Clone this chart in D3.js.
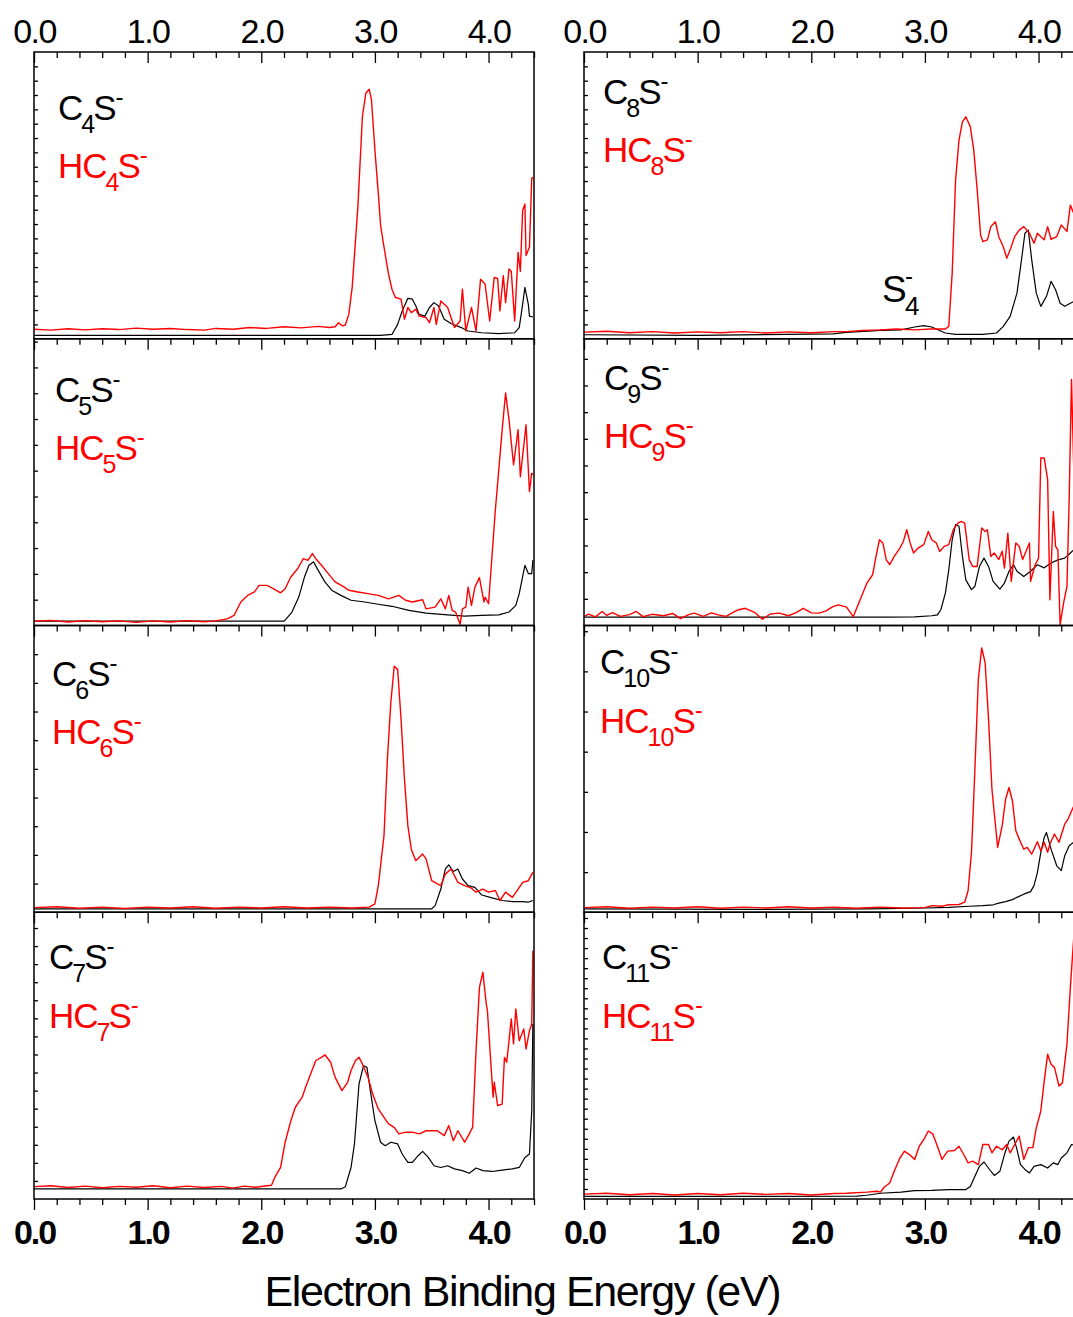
<!DOCTYPE html>
<html lang="en">
<head>
<meta charset="UTF-8">
<title>Photoelectron spectra CnS- / HCnS-</title>
<style>
  body { margin: 0; background: #fff; }
  svg { display: block; font-family: "Liberation Sans", Arial, sans-serif; }
  .frame { fill: none; stroke: #000; stroke-width: 1.5px; }
  .black { fill: none; stroke: #000; stroke-width: 1.2px; stroke-linejoin: round; }
  .red { fill: none; stroke: #ff0000; stroke-width: 1.4px; stroke-linejoin: round; }
  .tick line { stroke: #000; stroke-width: 1.3px; }
</style>
<script src="https://cdn.jsdelivr.net/npm/d3@7"></script>
</head>
<body>
<div id="chart"></div>
<script>
// x values in eV, y in % of panel height
const c4s = [[0,1.2],[3.05,1.2],[3.15,1.5],[3.20,5],[3.24,9.7],[3.29,14.1],[3.33,13.8],[3.36,11.4],[3.39,8.5],[3.44,7.9],[3.48,10.9],[3.52,12.6],[3.56,11.4],[3.61,6.8],[3.67,5.3],[3.76,3.9],[3.82,2.7],[3.94,2.1],[4.09,1.8],[4.23,2.1],[4.27,3.9],[4.30,12],[4.32,17.9],[4.35,12],[4.36,7.9],[4.39,7.6]];
const hc4s = [[0,3.3],[0.15,3.0],[0.3,3.5],[0.45,3.1],[0.6,3.5],[0.75,3.2],[0.9,3.7],[1.05,3.3],[1.2,3.6],[1.35,3.2],[1.5,3.0],[1.6,3.6],[1.75,3.3],[1.9,3.9],[2.05,3.6],[2.2,4.2],[2.35,3.8],[2.5,4.3],[2.6,3.9],[2.65,4.2],[2.68,5.6],[2.71,4.5],[2.74,4.8],[2.77,8.5],[2.80,17.9],[2.85,45.9],[2.89,77.5],[2.92,85.6],[2.95,87],[2.97,83.3],[3.00,65.8],[3.03,50.6],[3.05,39.5],[3.08,32],[3.12,22.5],[3.15,17.3],[3.18,14.4],[3.23,13.8],[3.26,6.8],[3.29,10.9],[3.32,9.1],[3.36,10.3],[3.39,7.9],[3.45,7.4],[3.48,5.6],[3.52,10.9],[3.54,5],[3.58,13.2],[3.64,10.9],[3.70,3.9],[3.75,6.2],[3.77,17.3],[3.80,2.7],[3.85,10.9],[3.89,2.7],[3.93,20.8],[3.97,19],[4.01,6.2],[4.05,21.4],[4.08,21],[4.10,9.7],[4.13,22],[4.15,12.6],[4.18,24.3],[4.20,23.5],[4.23,6.2],[4.26,30.1],[4.28,23.5],[4.30,44.7],[4.32,47],[4.33,29],[4.36,32],[4.38,55.8],[4.39,56.4]];

const c5s = [[0,1.5],[2.2,1.5],[2.21,1.9],[2.27,4.7],[2.33,9.9],[2.38,16.9],[2.42,21],[2.46,22.2],[2.50,19.3],[2.56,15.2],[2.62,12.3],[2.70,10.5],[2.79,8.8],[2.91,8.2],[3.03,7.4],[3.15,6.7],[3.30,5.3],[3.45,4.3],[3.64,3.7],[3.79,3.3],[3.94,3.5],[4.09,3.7],[4.18,4.7],[4.24,7],[4.27,11.1],[4.32,21],[4.35,18.1],[4.38,18.1],[4.39,22.8]];
const hc5s = [[0,1.5],[0.15,1.8],[0.3,1.2],[0.45,1.7],[0.6,1.3],[0.75,1.6],[0.9,1.1],[1.05,1.6],[1.2,1.2],[1.35,1.7],[1.5,1.3],[1.6,1.6],[1.70,2.3],[1.76,3.5],[1.82,8.2],[1.88,10.5],[1.94,11.7],[1.98,14],[2.05,14],[2.11,12.8],[2.17,11.4],[2.21,12.8],[2.26,16.9],[2.32,19.8],[2.37,23.3],[2.41,22.7],[2.45,25.1],[2.48,23.3],[2.53,21],[2.59,18.1],[2.65,15.2],[2.73,13.4],[2.77,12.3],[2.85,11.7],[2.94,11.1],[3.03,10.5],[3.12,9.3],[3.21,10.5],[3.27,8.8],[3.33,8.2],[3.42,9.0],[3.45,5.8],[3.53,6.4],[3.58,9.3],[3.62,5.8],[3.65,10.5],[3.68,5.3],[3.71,4.7],[3.75,0.4],[3.77,5.8],[3.80,6.4],[3.82,13.4],[3.85,7],[3.88,13.4],[3.92,16.7],[3.94,12.3],[3.96,8.2],[3.97,9.9],[4.00,7.6],[4.06,40.3],[4.12,68.3],[4.15,81.1],[4.18,71.8],[4.22,56],[4.26,68.3],[4.28,51.9],[4.33,70],[4.36,46.7],[4.38,53.1],[4.39,52.5]];

const c6s = [[0,1.2],[3.50,1.2],[3.53,2.3],[3.58,8.1],[3.62,15.1],[3.65,16.5],[3.69,14.2],[3.73,15.1],[3.77,11.6],[3.82,9.3],[3.88,8.7],[3.94,6],[4.03,5],[4.12,4.1],[4.21,3.7],[4.30,3.7],[4.35,3.5],[4.39,4.1]];
const hc6s = [[0,1.6],[0.2,1.9],[0.4,1.4],[0.6,1.8],[0.8,1.3],[1.0,1.8],[1.2,1.5],[1.4,1.9],[1.6,1.4],[1.8,1.8],[2.0,1.5],[2.2,1.9],[2.4,1.5],[2.6,1.8],[2.8,1.5],[2.95,1.8],[3.0,2.9],[3.03,9.3],[3.08,26.7],[3.11,53.4],[3.14,73.1],[3.17,85.8],[3.20,84.7],[3.23,67.3],[3.26,46.4],[3.29,30.2],[3.32,22],[3.36,18],[3.42,20.3],[3.45,18.6],[3.50,11],[3.55,9.9],[3.58,9.3],[3.62,13.3],[3.67,15.1],[3.73,10.4],[3.79,9.3],[3.85,8.4],[3.89,7],[3.95,8.1],[4.00,7],[4.06,7.6],[4.10,4.1],[4.15,7],[4.21,5.2],[4.26,8.1],[4.30,10.4],[4.35,11],[4.39,13.9]];

const c7s = [[0,3.5],[2.70,3.5],[2.74,4.3],[2.79,11],[2.82,19.2],[2.86,40.1],[2.90,46.5],[2.93,45.9],[2.96,37.8],[3.00,27.3],[3.05,19.8],[3.09,18.6],[3.14,19.8],[3.20,19.2],[3.24,15.7],[3.29,12.8],[3.33,12.8],[3.38,15.1],[3.42,16.6],[3.47,14.5],[3.52,11.6],[3.58,11],[3.64,11.6],[3.70,10.5],[3.77,9.9],[3.83,9],[3.89,10.8],[3.95,9.9],[4.03,9.6],[4.12,10.1],[4.21,10.5],[4.27,11],[4.32,14.5],[4.36,15.7],[4.38,30.8],[4.39,61]];
const hc7s = [[0,4.3],[0.15,4.6],[0.3,4.0],[0.45,4.5],[0.6,3.9],[0.75,4.4],[0.9,4.1],[1.05,4.6],[1.2,3.9],[1.35,4.5],[1.5,4.0],[1.65,4.4],[1.75,3.8],[1.85,4.5],[1.95,4.1],[2.05,4.6],[2.09,4.8],[2.12,7.6],[2.17,11],[2.21,19.8],[2.26,27.3],[2.30,32],[2.36,35.5],[2.39,39],[2.44,44.2],[2.48,48.3],[2.53,49.4],[2.56,50.3],[2.61,47.7],[2.65,42.4],[2.71,37.8],[2.76,40.7],[2.79,44.8],[2.83,48.3],[2.86,49.4],[2.89,47.1],[2.94,42.4],[2.98,36.6],[3.03,31.4],[3.08,28.5],[3.12,26.2],[3.17,25],[3.21,22.7],[3.27,23.3],[3.33,23.3],[3.39,22.7],[3.45,23.8],[3.55,23.8],[3.61,22.1],[3.65,25.6],[3.69,20.3],[3.73,23.8],[3.79,19.8],[3.83,22.7],[3.86,25],[3.89,51.7],[3.92,73.8],[3.95,79.1],[3.98,68],[3.99,65.7],[4.04,35.5],[4.05,40.7],[4.08,32.6],[4.12,33.1],[4.14,49.4],[4.16,47.7],[4.20,62.8],[4.22,54.1],[4.24,66.3],[4.27,55.2],[4.31,59.3],[4.33,52.3],[4.36,58.7],[4.38,61],[4.39,86.6]];

const c8s = [[0,1.4],[1.0,1.2],[2.19,1.7],[2.31,2.2],[2.61,2.9],[2.79,3.1],[2.91,4.1],[2.99,4.6],[3.06,4.1],[3.18,2],[3.27,1.5],[3.51,1.5],[3.63,2],[3.69,4.3],[3.75,7.8],[3.81,15.9],[3.85,27.5],[3.88,36.8],[3.91,37.9],[3.94,27.5],[3.98,15.9],[4.02,11.3],[4.07,14.8],[4.11,20],[4.15,17.1],[4.19,12.4],[4.23,11.3],[4.28,12.4],[4.31,13]];
const hc8s = [[0,2.3],[0.2,2.6],[0.4,2.1],[0.6,2.5],[0.8,2.0],[1.0,2.4],[1.2,2.1],[1.4,2.5],[1.6,2.0],[1.8,2.4],[2.0,2.1],[2.2,2.5],[2.31,2.5],[2.45,2.9],[2.61,3.1],[2.75,3.4],[2.91,3.1],[3.05,3.4],[3.18,3.4],[3.21,4.3],[3.24,22.9],[3.27,55.3],[3.30,69.3],[3.33,75.6],[3.36,77.4],[3.40,73.9],[3.43,65.8],[3.46,51.9],[3.49,36.2],[3.51,33.9],[3.55,34.5],[3.58,39.1],[3.62,40.8],[3.65,35.6],[3.69,32.1],[3.72,28.1],[3.75,31],[3.79,35.6],[3.83,37.9],[3.87,39.1],[3.92,36.8],[3.96,33.3],[3.99,36.8],[4.02,35.6],[4.05,34.5],[4.08,39.1],[4.11,34.7],[4.16,35.6],[4.20,39.7],[4.25,37.4],[4.28,46.6],[4.31,43.7]];

const c9s = [[0,2.9],[2.67,2.9],[2.91,3.0],[3.06,3.4],[3.11,3.7],[3.14,5.5],[3.18,11.3],[3.21,19.4],[3.24,29.9],[3.27,35.2],[3.30,34.6],[3.33,24.1],[3.36,15.9],[3.41,12.5],[3.44,13.7],[3.48,20.6],[3.52,23.5],[3.56,20.6],[3.60,15.4],[3.66,12.7],[3.70,14.8],[3.74,18.9],[3.78,21.2],[3.81,18.9],[3.87,17.1],[3.93,18.9],[3.99,21.2],[4.05,20.1],[4.11,21.8],[4.17,22.9],[4.23,23.5],[4.28,25.3],[4.31,26.4]];
const hc9s = [[0,3.1],[0.04,4.0],[0.1,3.0],[0.16,4.9],[0.2,3.5],[0.25,4.5],[0.32,3.2],[0.4,3.8],[0.46,4.9],[0.52,3.1],[0.6,3.9],[0.7,3.4],[0.78,4.2],[0.85,2.4],[0.92,3.8],[0.97,4.3],[1.05,3.2],[1.12,4.4],[1.18,3.7],[1.25,3.2],[1.30,4.3],[1.36,5.5],[1.42,6],[1.5,4.6],[1.57,2.2],[1.64,4.0],[1.72,4.3],[1.8,3.4],[1.87,4.6],[1.93,6],[2.0,4.4],[2.07,4.3],[2.13,5.1],[2.19,6.6],[2.24,7.2],[2.31,6.4],[2.37,3.1],[2.43,9],[2.49,14.8],[2.54,17.7],[2.57,24.1],[2.60,29.9],[2.63,28.8],[2.66,22.9],[2.69,21.2],[2.73,24.1],[2.78,27],[2.81,29.3],[2.84,33.4],[2.87,28.8],[2.90,25.3],[2.94,27],[2.99,28.2],[3.03,32.8],[3.06,29.9],[3.10,28.8],[3.13,25.8],[3.17,27.6],[3.21,28.2],[3.25,33.4],[3.29,35.7],[3.32,36.3],[3.35,35.7],[3.39,22.9],[3.42,20.6],[3.46,20.6],[3.50,34],[3.53,32.8],[3.55,33.4],[3.58,24.1],[3.61,25.3],[3.65,23],[3.68,25.9],[3.70,20],[3.73,32.2],[3.76,15.4],[3.80,28.8],[3.83,27.6],[3.86,23],[3.89,25.9],[3.92,28.8],[3.93,15.4],[3.97,21.2],[4.00,23.5],[4.02,58.4],[4.05,58.4],[4.08,50.9],[4.10,9],[4.13,39.8],[4.15,27.6],[4.17,26.4],[4.19,0.2],[4.22,7.8],[4.25,13.6],[4.27,45],[4.29,85.8],[4.31,54.4]];

const c10s = [[0,1.2],[1.5,1.0],[2.5,1.2],[2.91,1.4],[3.21,1.7],[3.39,2.1],[3.51,2.3],[3.60,2.6],[3.65,3.2],[3.71,3.7],[3.77,4.4],[3.81,5.2],[3.87,6.3],[3.93,7.2],[3.96,9.3],[3.99,13.9],[4.02,20.9],[4.05,26.1],[4.07,27.8],[4.11,22],[4.16,16.2],[4.20,14.5],[4.23,19.7],[4.27,23.2],[4.31,24.4]];
const hc10s = [[0,1.6],[0.2,1.9],[0.4,1.4],[0.6,1.8],[0.8,1.5],[1.0,1.9],[1.2,1.4],[1.4,1.8],[1.6,1.5],[1.8,1.9],[2.0,1.5],[2.2,1.8],[2.4,1.4],[2.6,1.8],[2.8,1.5],[3.0,1.6],[3.06,2.3],[3.15,2.1],[3.21,2.6],[3.30,2.7],[3.35,3.5],[3.38,7.5],[3.41,20.9],[3.44,49.9],[3.47,81.2],[3.50,92.2],[3.53,87],[3.56,67.3],[3.59,42.9],[3.64,22.6],[3.68,30.2],[3.71,39.4],[3.74,43.5],[3.77,38.9],[3.80,28.4],[3.83,25.5],[3.87,22],[3.90,22.6],[3.94,20.3],[3.99,24.6],[4.02,21.4],[4.05,24.4],[4.08,20.9],[4.10,23.8],[4.14,27.3],[4.18,24.4],[4.23,30.7],[4.26,32.5],[4.31,37.1]];

const c11s = [[0,0.9],[1.5,0.9],[2.4,1.0],[2.49,1.3],[2.61,2],[2.79,2.4],[2.91,2.9],[3.06,3.0],[3.21,3.3],[3.36,3.3],[3.40,4.4],[3.44,7.9],[3.48,11.4],[3.52,12.9],[3.57,10.2],[3.61,8.2],[3.66,9.7],[3.70,15.5],[3.74,20.2],[3.78,21.6],[3.81,17.3],[3.84,12.1],[3.88,10.3],[3.92,9.1],[3.96,11.4],[4.02,12],[4.08,10.8],[4.13,12.6],[4.17,12],[4.20,14.3],[4.25,16.1],[4.29,19],[4.31,18.8]];
const hc11s = [[0,1.7],[0.2,2.0],[0.4,1.5],[0.6,1.9],[0.8,1.4],[1.0,1.9],[1.2,1.5],[1.4,2.0],[1.6,1.6],[1.8,1.9],[2.0,1.4],[2.2,1.9],[2.31,2.0],[2.49,2.4],[2.58,2.7],[2.61,2.4],[2.64,4.1],[2.69,5.6],[2.73,9.7],[2.78,14.3],[2.82,16.7],[2.87,15.3],[2.91,13.8],[2.95,18.4],[2.99,20.7],[3.03,23.7],[3.07,22.6],[3.11,18.4],[3.15,13.8],[3.20,16.7],[3.26,16.9],[3.30,18.4],[3.35,14.9],[3.38,12.6],[3.42,13.2],[3.47,12],[3.51,19],[3.56,19],[3.59,16.1],[3.63,18.4],[3.68,17.2],[3.72,19],[3.75,16.1],[3.79,19],[3.83,21.9],[3.87,13.8],[3.91,17.9],[3.95,17.9],[3.98,24.8],[4.02,30.7],[4.05,41.1],[4.08,50.5],[4.11,47],[4.14,45.9],[4.18,39.4],[4.21,40.5],[4.25,54],[4.28,73.8],[4.31,91.3]];

const nCarbon = ["4", "5", "6", "7", "8", "9", "10", "11"];
const blackSeries = [c4s, c5s, c6s, c7s, c8s, c9s, c10s, c11s];
const redSeries = [hc4s, hc5s, hc6s, hc7s, hc8s, hc9s, hc10s, hc11s];
const xMajor = [0, 1, 2, 3, 4];
const xTitle = "Electron Binding Energy (eV)";

// layout
const W = 1073, H = 1317;
const colX = [34, 584], panelW = 500;
const top0 = 52, panelH = 286.75;
// per panel: y tick step (in %), label offset from panel corner
const panelCfg = [
  { step: 5,   lx: 24, ly: [68, 126] },
  { step: 9,   lx: 21, ly: [63, 121] },
  { step: 10,  lx: 18, ly: [60, 118] },
  { step: 6.3, lx: 15, ly: [57, 116] },
  { step: 5,   lx: 19, ly: [52, 110] },
  { step: 9.3, lx: 20, ly: [51, 109] },
  { step: 14,  lx: 16, ly: [48, 107] },
  { step: 3.5, lx: 18, ly: [57, 116] }
];

const svg = d3.select("#chart").append("svg")
  .attr("width", W)
  .attr("height", H);

const xScales = colX.map(x0 => d3.scaleLinear().domain([0, 4.4]).range([x0, x0 + panelW]));
const minorTicks = d3.range(0, 4.41, 0.2).filter(v => Math.abs(v - Math.round(v)) > 0.01);

function formula(g, x, y, prefix, n, color) {
  const t = g.append("text")
    .attr("x", x).attr("y", y)
    .attr("fill", color)
    .attr("font-size", 35)
    .attr("letter-spacing", -1);
  t.append("tspan").text(prefix);
  t.append("tspan").attr("font-size", 25).attr("dy", 13).attr("dx", -1).text(n);
  t.append("tspan").attr("dy", -13).attr("dx", -1).text("S");
  t.append("tspan").attr("font-size", 24).attr("dy", -15).attr("dx", 0).text("-");
}

for (let i = 0; i < 8; i++) {
  const col = i < 4 ? 0 : 1, row = i % 4;
  const x = xScales[col];
  const yTop = top0 + row * panelH, yBot = yTop + panelH;
  const y = d3.scaleLinear().domain([0, 100]).range([yBot, yTop]);
  const g = svg.append("g");

  // series
  const line = d3.line().x(d => x(d[0])).y(d => y(d[1]));
  g.append("path").datum(blackSeries[i]).attr("class", "black").attr("d", line);
  g.append("path").datum(redSeries[i]).attr("class", "red").attr("d", line);

  // frame
  g.append("rect").attr("class", "frame")
    .attr("x", x.range()[0]).attr("y", yTop)
    .attr("width", panelW).attr("height", panelH);

  // x ticks pointing down from top edge
  g.append("g").attr("transform", `translate(0,${yTop})`)
    .call(d3.axisBottom(x).tickValues(minorTicks).tickSize(6).tickFormat(""))
    .call(a => a.select(".domain").remove());
  g.append("g").attr("transform", `translate(0,${yTop})`)
    .call(d3.axisBottom(x).tickValues(xMajor).tickSize(11).tickFormat(""))
    .call(a => a.select(".domain").remove());

  // y minor ticks, inside left edge
  const cfg = panelCfg[i];
  g.append("g").attr("transform", `translate(${x.range()[0]},0)`)
    .call(d3.axisRight(y).tickValues(d3.range(cfg.step, 100, cfg.step)).tickSize(4).tickFormat(""))
    .call(a => a.select(".domain").remove());

  // labels
  formula(g, x.range()[0] + cfg.lx, yTop + cfg.ly[0], "C", nCarbon[i], "#000");
  formula(g, x.range()[0] + cfg.lx, yTop + cfg.ly[1], "HC", nCarbon[i], "#ff0000");

  if (row === 3) {
    // bottom outward ticks + bold labels
    g.append("g").attr("transform", `translate(0,${yBot})`)
      .call(d3.axisBottom(x).tickValues(minorTicks).tickSize(6).tickFormat(""))
      .call(a => a.select(".domain").remove());
    g.append("g").attr("transform", `translate(0,${yBot})`)
      .call(d3.axisBottom(x).tickValues(xMajor).tickSize(11).tickPadding(10).tickFormat(d3.format(".1f")))
      .call(a => a.select(".domain").remove())
      .selectAll("text")
      .attr("font-size", 34).attr("font-weight", "bold")
      .attr("letter-spacing", -2).attr("fill", "#000")
      .attr("font-family", "Liberation Sans, Arial, sans-serif");
  }
  if (row === 0) {
    g.append("g").attr("transform", `translate(0,${yTop})`)
      .call(d3.axisTop(x).tickValues(xMajor).tickSize(0).tickPadding(9).tickFormat(d3.format(".1f")))
      .call(a => a.select(".domain").remove())
      .selectAll("text")
      .attr("font-size", 34).attr("letter-spacing", -1.5).attr("fill", "#000")
      .attr("font-family", "Liberation Sans, Arial, sans-serif");
  }
}

// S4- annotation in the C8S panel
const s4 = svg.append("g");
s4.append("text").attr("x", 882).attr("y", 302).attr("font-size", 37).text("S");
s4.append("text").attr("x", 905).attr("y", 315).attr("font-size", 26).text("4");
s4.append("text").attr("x", 905).attr("y", 284).attr("font-size", 24).text("-");

// axis title
svg.append("text")
  .attr("x", 523).attr("y", 1306)
  .attr("text-anchor", "middle")
  .attr("font-size", 43)
  .attr("textLength", 517)
  .attr("lengthAdjust", "spacing")
  .text(xTitle);
</script>
</body>
</html>
